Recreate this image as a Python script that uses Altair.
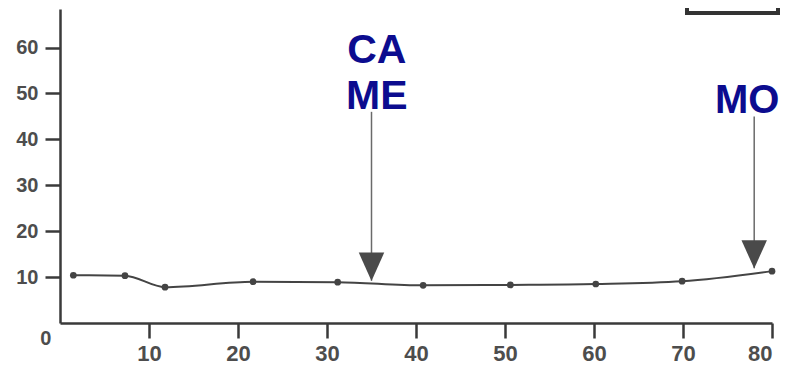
import altair as alt
import pandas as pd

# data
age = [1.5, 7.3, 11.8, 21.7, 31.2, 40.8, 50.6, 60.2, 69.9, 80.0]
value = [10.4, 10.3, 7.8, 9.0, 8.9, 8.2, 8.3, 8.5, 9.1, 11.3]

arrow_x = [35.0, 78.0]
arrow_top = [46.0, 45.0]
arrow_tip = [9.2, 11.9]

label_text = ["CA", "ME", "MO"]
label_x = [35.6, 35.6, 73.6]
label_y = [56.6, 46.7, 45.8]
label_align = ["center", "center", "left"]

x_ticks = [10, 20, 30, 40, 50, 60, 70, 80]
y_ticks = [10, 20, 30, 40, 50, 60]

df = pd.DataFrame({"age": age, "value": value})
arr = pd.DataFrame({"x": arrow_x, "top": arrow_top, "tip": arrow_tip})
lab = pd.DataFrame({"t": label_text, "x": label_x, "y": label_y, "a": label_align})

xs = alt.Scale(domain=[0, 80], nice=False, zero=False)
ys = alt.Scale(domain=[0, 68.4], nice=False)

font = "Liberation Sans"
axis_common = dict(
    domainColor="#3a3a3a", domainWidth=2.5, tickColor="#3a3a3a", tickWidth=2.5,
    labelFont=font, labelFontWeight="bold", labelColor="#4d4d4d",
    grid=False, title=None,
)

base = alt.Chart(df)

line = base.mark_line(color="#444444", strokeWidth=2, interpolate="monotone").encode(
    x=alt.X("age:Q", scale=xs,
            axis=alt.Axis(values=x_ticks, tickSize=15, labelPadding=5, labelFontSize=22,
                          **axis_common)),
    y=alt.Y("value:Q", scale=ys,
            axis=alt.Axis(values=y_ticks, tickSize=15, labelPadding=7, labelFontSize=20,
                          **axis_common)),
)
pts = base.mark_point(filled=True, color="#444444", size=45, opacity=1).encode(
    x=alt.X("age:Q", scale=xs), y=alt.Y("value:Q", scale=ys)
)

shaft = alt.Chart(arr).mark_rule(color="#6a6a6a", strokeWidth=1.5).encode(
    x=alt.X("x:Q", scale=xs), y=alt.Y("top:Q", scale=ys), y2=alt.Y2("tip:Q")
)
head = alt.Chart(arr).mark_point(
    shape="M-0.9,-1L0.9,-1L0,1Z", filled=True, color="#4a4a4a", size=800, opacity=1, yOffset=-14
).encode(x=alt.X("x:Q", scale=xs), y=alt.Y("tip:Q", scale=ys))

labels_c = alt.Chart(lab[lab.a == "center"]).mark_text(
    font=font, fontWeight="bold", fontSize=41, color="#0c0c8f", baseline="alphabetic", align="center"
).encode(x=alt.X("x:Q", scale=xs), y=alt.Y("y:Q", scale=ys), text="t:N")
labels_l = alt.Chart(lab[lab.a == "left"]).mark_text(
    font=font, fontWeight="bold", fontSize=40, color="#0c0c8f", baseline="alphabetic", align="left"
).encode(x=alt.X("x:Q", scale=xs), y=alt.Y("y:Q", scale=ys), text="t:N")

zero = alt.Chart(pd.DataFrame({"t": ["0"], "x": [-1.6], "y": [-3.4]})).mark_text(
    font=font, fontWeight="bold", fontSize=20, color="#4d4d4d", baseline="middle", align="center"
).encode(x=alt.X("x:Q", scale=xs), y=alt.Y("y:Q", scale=ys), text="t:N")

box = alt.Chart(pd.DataFrame({"k": [0]})).mark_rect(
    fill="white", stroke="#333333", strokeWidth=4
).encode(x=alt.value(627), x2=alt.value(718), y=alt.value(-20), y2=alt.value(4))

chart = alt.layer(line, pts, shaft, head, labels_c, labels_l, zero, box).properties(
    width=712, height=314,
    background="white",
    autosize=alt.AutoSizeParams(type="none"),
    padding={"left": 52, "top": 1, "right": 8, "bottom": 45},
).configure_view(stroke=None)

chart.save("out.html", embed_options={"renderer": "svg", "actions": False})
